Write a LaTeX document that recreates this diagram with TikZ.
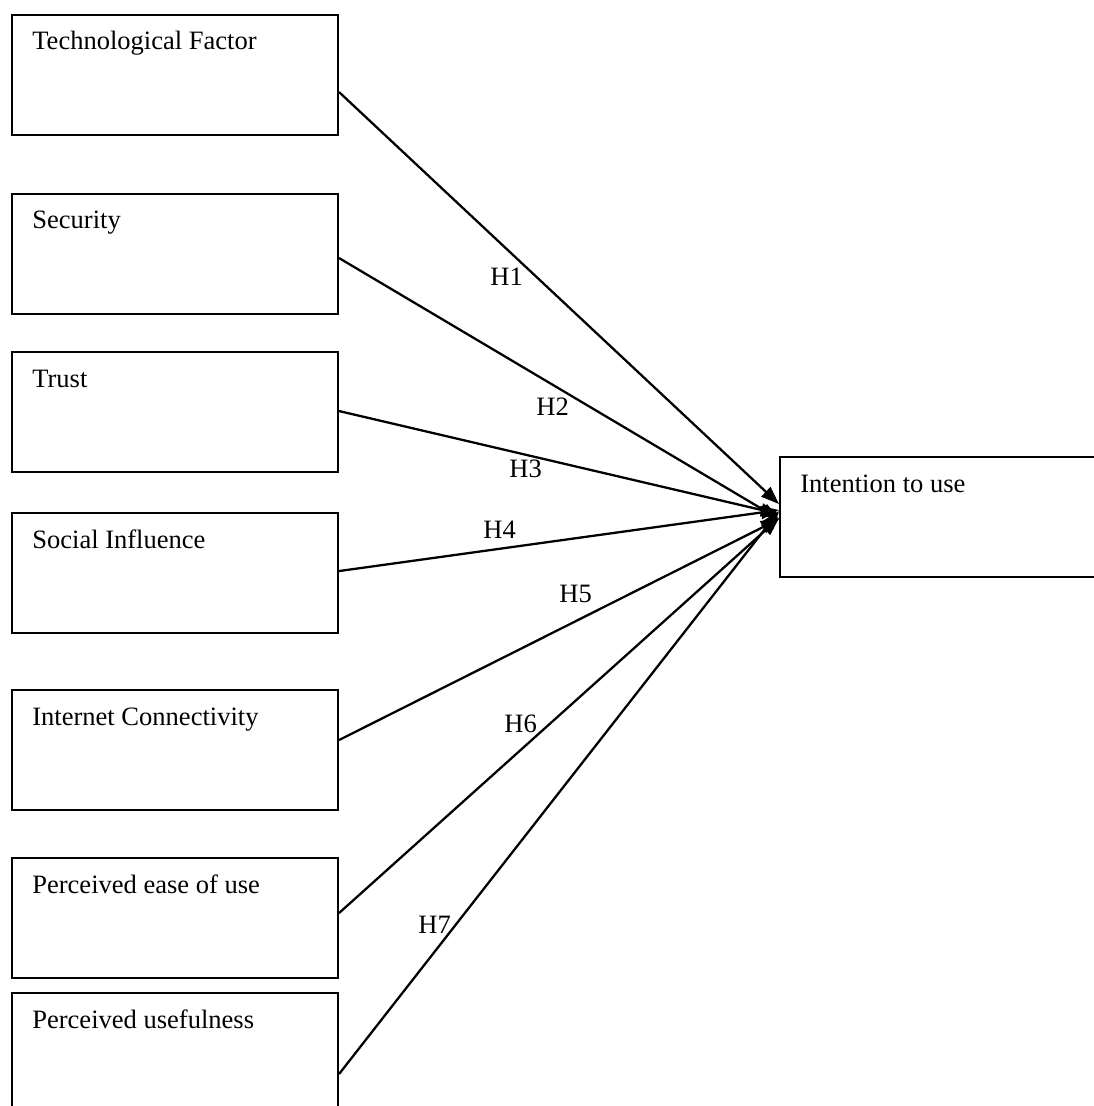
\documentclass[tikz,border=0pt]{standalone}
\usepackage{fontspec}
\setmainfont{Liberation Serif}
\usetikzlibrary{arrows.meta}
\tikzset{
  factor/.style={draw, line width=1.2pt, minimum width=6.52cm, minimum height=2.4cm,
    anchor=north west, inner sep=0pt,
    label={[anchor=base west, inner sep=0pt, xshift=0.42cm, yshift=-0.72cm]north west:#1}},
  hyp/.style={draw, line width=1.3pt, -{Triangle[length=0.36cm, width=0.26cm]}},
  hlabel/.style={anchor=base west, inner sep=0pt},
}
\begin{document}
\begin{tikzpicture}[x=0.02cm, y=-0.02cm, font=\fontsize{15.1}{18}\selectfont]
  \useasboundingbox (0,0) rectangle (1094,1106);
  \clip (0,0) rectangle (1094,1106);
  % factors
  \node[factor=Technological Factor] (tech) at (11,14) {};
  \node[factor=Security] (sec) at (11,193) {};
  \node[factor=Trust] (trust) at (11,351) {};
  \node[factor=Social Influence] (soc) at (11,512) {};
  \node[factor=Internet Connectivity] (net) at (11,689) {};
  \node[factor=Perceived ease of use] (peou) at (11,857) {};
  \node[factor=Perceived usefulness] (pu) at (11,992) {};
  % outcome
  \node[factor=Intention to use, minimum width=6.5cm] (itu) at (779,456) {};
  % hypotheses
  \foreach \src/\from/\to in {tech/-0.34/0.26, sec/-0.08/-0.04, trust/0.02/0.06,
      soc/0.04/0.14, net/0.2/-0.04, peou/0.1/-0.02, pu/-0.42/0.12}
    \draw[hyp] ([yshift=\from cm]\src.east) -- ([yshift=\to cm]itu.west);
  \node[hlabel] (h1) at (490,285) {H1};
  \node[hlabel] (h2) at (536,415) {H2};
  \node[hlabel] (h3) at (509,477) {H3};
  \node[hlabel] (h4) at (483,538) {H4};
  \node[hlabel] (h5) at (559,602) {H5};
  \node[hlabel] (h6) at (504,732) {H6};
  \node[hlabel] (h7) at (418,933) {H7};
\end{tikzpicture}
\end{document}
